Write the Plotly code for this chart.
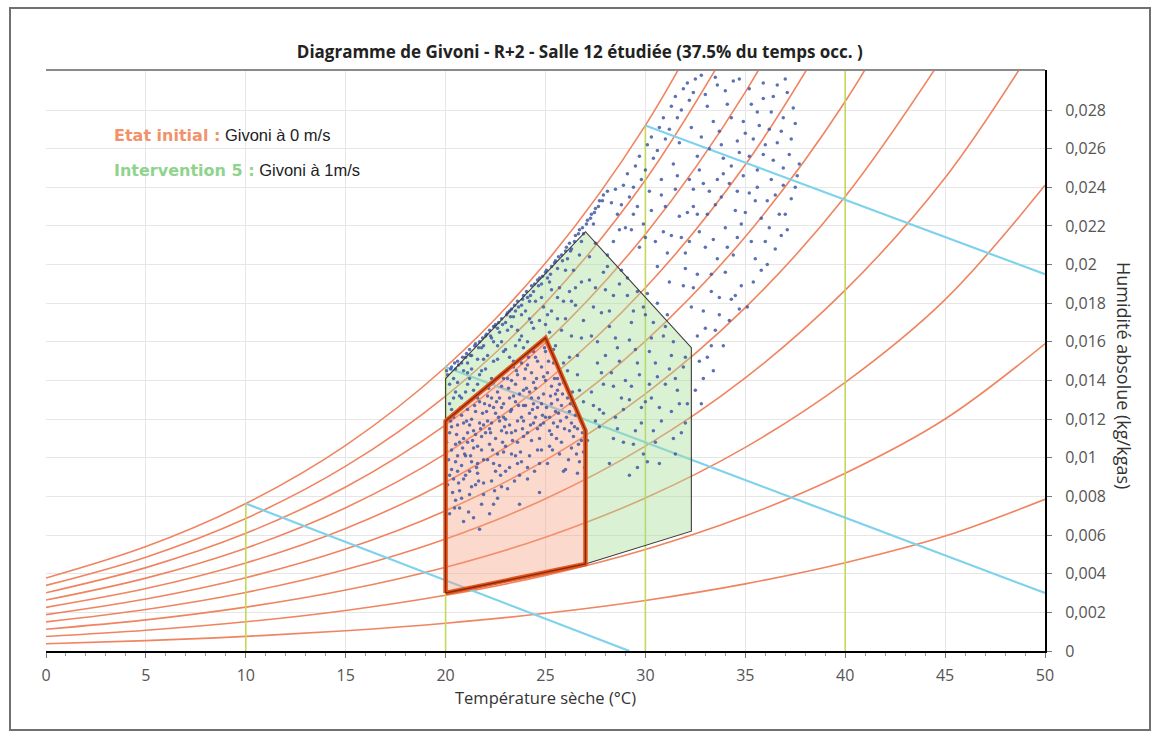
import plotly.graph_objects as go

# ---------------- data ----------------
temps = [0, 5, 10, 15, 20, 25, 30, 35, 40, 45, 50]

# humidity-ratio curves (kg/kgas) for relative humidity 10 % ... 100 %
rh10 = [0.000375, 0.000536, 0.000755, 0.001048, 0.001439, 0.001951, 0.002617, 0.003474, 0.004566, 0.005946, 0.00785]
rh20 = [0.000751, 0.001073, 0.001511, 0.002100, 0.002885, 0.003915, 0.005257, 0.006987, 0.009200, 0.012008, 0.01590]
rh30 = [0.001128, 0.001611, 0.002270, 0.003156, 0.004338, 0.005891, 0.007919, 0.010540, 0.013902, 0.018187, 0.02410]
rh40 = [0.001505, 0.002150, 0.003030, 0.004215, 0.005797, 0.007880, 0.010604, 0.014133, 0.018675, 0.024488, 0.03220]
rh50 = [0.001882, 0.002690, 0.003792, 0.005278, 0.007263, 0.009881, 0.013311, 0.017768, 0.023521, 0.030914]
rh60 = [0.002259, 0.003230, 0.004556, 0.006344, 0.008736, 0.011895, 0.016042, 0.021444, 0.028440, 0.037469]
rh70 = [0.002637, 0.003772, 0.005322, 0.007414, 0.010216, 0.013922, 0.018797, 0.025162, 0.033435]
rh80 = [0.003016, 0.004315, 0.006090, 0.008487, 0.011703, 0.015962, 0.021575, 0.028924, 0.038507]
rh90 = [0.003395, 0.004858, 0.006859, 0.009565, 0.013197, 0.018015, 0.024378, 0.032730]
rh100 = [0.003775, 0.005403, 0.007631, 0.010646, 0.014698, 0.020082, 0.027205, 0.036580]

# isotherms (vertical yellow-green lines up to saturation)
isotherm_t = [10, 20, 30, 40]
isotherm_top = [0.00763, 0.01470, 0.02720, 0.03100]

# isenthalpic lines (cyan)
enth_t0 = [10, 20, 30]
enth_w0 = [0.00763, 0.01470, 0.02720]
enth_t1 = [29.2, 50, 50]
enth_w1 = [0.0, 0.0030, 0.0195]

# Givoni zones
green_t = [20, 20, 27, 32.3, 32.3, 27, 20]
green_w = [0.0030, 0.0141, 0.0217, 0.0157, 0.0062, 0.0045, 0.0030]
orange_t = [20, 20, 25, 27, 27, 20]
orange_w = [0.0030, 0.0119, 0.0162, 0.0114, 0.0045, 0.0030]

# occupied hours (temperature, humidity ratio)
points = [
    # inside the 0 m/s zone
    (20.2,0.0071),(20.4,0.0089),(20.3,0.0104),(20.6,0.0117),(20.8,0.0096),(20.5,0.0078),(20.9,0.0110),(20.2,0.0113),
    (20.7,0.0083),(20.4,0.0121),(20.9,0.0067),(20.3,0.0094),(20.6,0.0101),(20.8,0.0122),(20.5,0.0107),(20.1,0.0086),
    (20.7,0.0074),(20.9,0.0089),(21.1,0.0125),(21.3,0.0098),(21.5,0.0112),(21.2,0.0081),(21.7,0.0129),(21.4,0.0069),
    (21.8,0.0104),(21.6,0.0092),(21.9,0.0117),(21.1,0.0108),(21.5,0.0086),(21.3,0.0120),(21.8,0.0076),(21.6,0.0131),
    (21.2,0.0093),(21.9,0.0099),(21.4,0.0114),(21.7,0.0063),(21.0,0.0101),(21.6,0.0106),(22.1,0.0132),(22.3,0.0088),
    (22.5,0.0123),(22.2,0.0107),(22.7,0.0096),(22.4,0.0139),(22.8,0.0114),(22.6,0.0079),(22.9,0.0128),(22.1,0.0099),
    (22.5,0.0110),(22.3,0.0118),(22.8,0.0085),(22.6,0.0134),(22.2,0.0071),(22.9,0.0103),(22.4,0.0126),(22.7,0.0119),
    (22.0,0.0113),(22.5,0.0093),(22.8,0.0137),(23.1,0.0141),(23.3,0.0102),(23.5,0.0129),(23.2,0.0117),(23.7,0.0091),
    (23.4,0.0147),(23.8,0.0121),(23.6,0.0108),(23.9,0.0135),(23.1,0.0084),(23.5,0.0114),(23.3,0.0125),(23.8,0.0098),
    (23.6,0.0143),(23.2,0.0095),(23.9,0.0111),(23.4,0.0132),(23.7,0.0076),(23.0,0.0120),(23.5,0.0138),(23.8,0.0149),
    (24.1,0.0148),(24.3,0.0109),(24.5,0.0136),(24.2,0.0123),(24.7,0.0097),(24.4,0.0155),(24.8,0.0128),(24.6,0.0115),
    (24.9,0.0142),(24.1,0.0089),(24.5,0.0121),(24.3,0.0131),(24.8,0.0104),(24.6,0.0150),(24.2,0.0101),(24.9,0.0118),
    (24.4,0.0139),(24.7,0.0082),(24.0,0.0127),(25.1,0.0144),(25.3,0.0112),(25.5,0.0133),(25.2,0.0121),(25.7,0.0102),
    (25.4,0.0149),(25.8,0.0127),(25.6,0.0116),(25.9,0.0093),(25.1,0.0097),(25.5,0.0124),(25.3,0.0137),(25.8,0.0108),
    (25.6,0.0141),(25.2,0.0106),(25.0,0.0155),(26.1,0.0131),(26.3,0.0105),(26.5,0.0122),(26.2,0.0114),(26.7,0.0098),
    (26.4,0.0127),(26.8,0.0109),(26.6,0.0092),(26.9,0.0103),(26.3,0.0118),(26.0,0.0094),
    (20.3,0.0116),(20.7,0.0108),(21.2,0.0117),(21.5,0.0124),(21.8,0.0111),(22.2,0.0127),(22.6,0.0102),(22.9,0.0121),
    (23.2,0.0131),(23.6,0.0119),(23.9,0.0127),(24.3,0.0144),(24.6,0.0126),(24.9,0.0133),(25.3,0.0128),(25.7,0.0138),
    (26.2,0.0124),(26.6,0.0115),(21.0,0.0091),(21.9,0.0087),(22.4,0.0097),(23.0,0.0106),(23.5,0.0101),(24.1,0.0113),
    (24.7,0.0110),(25.4,0.0118),(20.6,0.0093),(21.4,0.0105),(22.7,0.0131),(23.3,0.0140),(24.0,0.0146),(24.5,0.0152),
    (25.0,0.0140),(22.1,0.0119),(20.9,0.0118),(21.6,0.0097),(23.7,0.0133),(24.4,0.0118),(25.6,0.0130),(26.4,0.0111),
    (20.15,0.0099),(20.35,0.0082),(20.55,0.0112),(20.75,0.0126),(20.95,0.0102),(20.25,0.0119),(20.45,0.0074),(20.65,0.0087),
    (20.85,0.0105),(20.05,0.0108),(21.05,0.0119),(21.25,0.0101),(21.45,0.0127),(21.65,0.0088),(21.85,0.0123),(21.15,0.0072),
    (21.35,0.0109),(21.55,0.0095),(21.75,0.0115),(21.95,0.0128),(22.05,0.0124),(22.25,0.0113),(22.45,0.0083),(22.65,0.0121),
    (22.85,0.0108),(22.15,0.0136),(22.35,0.0104),(22.55,0.0129),(22.75,0.0091),(22.95,0.0116),(23.05,0.0113),(23.25,0.0124),
    (23.45,0.0088),(23.65,0.0127),(23.85,0.0115),(23.15,0.0136),(23.35,0.0109),(23.55,0.0145),(23.75,0.0103),(23.95,0.0141),
    (24.05,0.0136),(24.25,0.0117),(24.45,0.0093),(24.65,0.0131),(24.85,0.0122),(24.15,0.0152),(24.35,0.0125),(24.55,0.0141),
    (24.75,0.0117),(24.95,0.0157),(25.05,0.0126),(25.25,0.0132),(25.45,0.0141),(25.65,0.0123),(25.85,0.0133),(25.15,0.0150),
    (25.35,0.0104),(25.55,0.0110),(25.75,0.0119),(25.95,0.0115),(26.05,0.0121),(26.25,0.0128),(26.45,0.0116),(26.65,0.0107),
    (26.85,0.0113),(26.15,0.0099),(26.35,0.0134),(26.55,0.0102),(26.75,0.0119),(26.95,0.0095),(20.4,0.0131),(21.0,0.0134),
    (21.6,0.0138),(22.3,0.0131),(22.9,0.0141),(23.4,0.0150),(24.2,0.0134),(24.8,0.0147),(25.4,0.0156),(25.9,0.0139),
    (20.2,0.0091),(20.8,0.0079),(21.3,0.0085),(21.9,0.0081),(22.4,0.0076),(23.0,0.0093),(23.6,0.0097),(24.1,0.0095),
    (24.6,0.0104),(25.2,0.0114),(20.5,0.0098),(21.1,0.0113),(21.7,0.0118),(22.2,0.0115),(22.8,0.0126),(23.3,0.0113),
    (23.9,0.0119),(24.4,0.0128),(25.0,0.0121),(25.6,0.0135),
    # band close to saturation
    (20.1,0.0143),(20.3,0.0147),(20.5,0.0146),(20.6,0.0150),(20.8,0.0149),(21.0,0.0152),(21.2,0.0156),(21.3,0.0153),
    (21.5,0.0159),(21.7,0.0160),(21.8,0.0157),(22.0,0.0163),(22.2,0.0166),(22.3,0.0162),(22.5,0.0169),(22.6,0.0167),
    (22.8,0.0172),(23.0,0.0170),(23.1,0.0175),(23.3,0.0177),(23.4,0.0173),(23.6,0.0181),(23.8,0.0179),(23.9,0.0184),
    (24.1,0.0183),(24.3,0.0189),(24.4,0.0186),(24.6,0.0192),(24.8,0.0190),(25.0,0.0196),(25.1,0.0193),(25.3,0.0199),
    (25.5,0.0202),(25.6,0.0198),(25.8,0.0205),(26.0,0.0207),(26.2,0.0211),(26.3,0.0208),(26.5,0.0215),(26.7,0.0218),
    (26.9,0.0216),(27.1,0.0223),(27.3,0.0226),(27.5,0.0229),(27.7,0.0233),(27.9,0.0236),(20.4,0.0141),(21.1,0.0149),
    (21.9,0.0158),(22.7,0.0165),(23.5,0.0176),(24.2,0.0181),(25.2,0.0191),(26.1,0.0203),(26.8,0.0212),(27.4,0.0221),
    (28.1,0.0238),(22.4,0.0168),(24.7,0.0193),(23.2,0.0176),
    (20.05,0.0145),(20.25,0.0146),(20.45,0.0149),(20.65,0.0148),(20.85,0.0152),(21.05,0.0154),(21.25,0.0153),(21.45,0.0158),
    (21.65,0.0157),(21.85,0.0162),(22.05,0.0164),(22.25,0.0163),(22.45,0.0168),(22.65,0.0170),(22.85,0.0169),(23.05,0.0174),
    (23.25,0.0173),(23.45,0.0179),(23.65,0.0178),(23.85,0.0182),(24.05,0.0186),(24.25,0.0184),(24.45,0.0190),(24.65,0.0189),
    (24.85,0.0194),(25.05,0.0197),(25.25,0.0195),(25.45,0.0201),(25.65,0.0204),(25.85,0.0202),(26.05,0.0209),(26.25,0.0207),
    (26.45,0.0212),(26.65,0.0216),(26.85,0.0219),(27.05,0.0221),(27.25,0.0224),(27.45,0.0227),(27.65,0.0230),(27.85,0.0233),
    (20.2,0.0138),(20.9,0.0145),(21.6,0.0151),(22.4,0.0160),(23.1,0.0166),(23.8,0.0174),(24.5,0.0181),(25.3,0.0187),
    (26.0,0.0197),(26.7,0.0205),
    # 1 m/s zone, outside the 0 m/s zone
    (20.2,0.0128),(20.5,0.0134),(20.8,0.0131),(21.1,0.0138),(21.4,0.0135),(21.7,0.0143),(22.0,0.0146),(22.3,0.0141),
    (22.6,0.0151),(22.9,0.0155),(23.2,0.0152),(23.5,0.0158),(23.8,0.0163),(24.1,0.0160),(24.4,0.0167),(24.7,0.0171),
    (25.0,0.0169),(25.3,0.0176),(25.6,0.0172),(25.9,0.0181),(26.2,0.0186),(26.5,0.0179),(26.8,0.0191),(25.5,0.0158),
    (25.9,0.0149),(26.3,0.0163),(26.6,0.0153),(26.9,0.0171),(26.1,0.0145),(26.7,0.0135),(26.4,0.0197),(25.7,0.0188),
    (24.9,0.0178),(24.2,0.0172),(23.6,0.0166),(22.8,0.0160),(22.1,0.0153),(21.3,0.0146),(20.6,0.0139),(23.9,0.0157),
    (25.2,0.0165),(26.0,0.0172),
    (20.3,0.0125),(20.7,0.0132),(21.2,0.0141),(21.8,0.0145),(22.4,0.0150),(23.0,0.0156),(23.7,0.0161),(24.3,0.0170),
    (25.1,0.0174),(25.8,0.0166),(26.3,0.0181),(26.8,0.0162),(26.2,0.0152),(26.6,0.0143),(26.9,0.0129),(26.5,0.0188),
    (25.6,0.0183),(24.8,0.0183),(24.0,0.0176),(23.3,0.0168),(22.6,0.0158),(21.9,0.0151),(21.1,0.0144),
    (27.2,0.0204),(27.5,0.0188),(27.8,0.0175),(27.3,0.0163),(27.6,0.0149),(27.9,0.0138),(27.4,0.0127),(27.7,0.0116),
    (27.1,0.0109),(28.1,0.0199),(28.4,0.0184),(28.2,0.0168),(28.6,0.0157),(28.3,0.0144),(28.8,0.0131),(28.5,0.0121),
    (28.9,0.0108),(28.2,0.0097),(29.1,0.0193),(29.4,0.0176),(29.2,0.0161),(29.6,0.0149),(29.3,0.0137),(29.8,0.0126),
    (29.5,0.0114),(29.9,0.0102),(29.2,0.0091),(30.1,0.0185),(30.4,0.0170),(30.2,0.0155),(30.6,0.0142),(30.3,0.0131),
    (30.8,0.0119),(30.5,0.0108),(31.1,0.0174),(31.4,0.0160),(31.2,0.0146),(31.6,0.0135),(31.3,0.0124),(31.8,0.0113),
    (32.0,0.0152),(32.1,0.0128),(27.5,0.0211),(28.7,0.0190),(29.9,0.0178),(30.9,0.0163),(28.0,0.0153),(29.0,0.0140),
    (30.0,0.0129),(31.0,0.0138),(27.9,0.0123),(28.4,0.0110),(29.6,0.0095),(30.7,0.0097),(31.5,0.0102),
    (27.2,0.0192),(27.4,0.0178),(27.6,0.0160),(27.8,0.0144),(27.3,0.0134),(27.7,0.0125),(27.5,0.0119),(28.0,0.0187),
    (28.2,0.0176),(28.5,0.0162),(28.7,0.0150),(28.4,0.0137),(28.9,0.0125),(28.6,0.0115),(29.1,0.0184),(29.3,0.0170),
    (29.5,0.0156),(29.7,0.0143),(29.2,0.0130),(29.8,0.0118),(29.4,0.0107),(30.0,0.0174),(30.3,0.0162),(30.5,0.0149),
    (30.2,0.0138),(30.7,0.0126),(30.4,0.0114),(31.0,0.0168),(31.3,0.0153),(31.5,0.0141),(31.7,0.0128),(31.9,0.0147),
    (32.0,0.0118),(28.1,0.0205),(28.8,0.0197),(29.6,0.0186),(30.6,0.0180),(27.9,0.0196),(31.4,0.0110),(30.1,0.0098),
    # hot and humid, outside both zones
    (28.3,0.0232),(28.6,0.0226),(28.9,0.0241),(29.2,0.0235),(29.5,0.0251),(29.8,0.0244),(30.1,0.0262),(30.4,0.0255),
    (30.7,0.0271),(31.0,0.0265),(31.3,0.0282),(31.6,0.0276),(31.9,0.0291),(32.2,0.0285),(32.5,0.0296),(29.0,0.0219),
    (29.7,0.0209),(30.3,0.0228),(30.9,0.0217),(31.5,0.0239),(32.1,0.0227),(32.7,0.0249),(33.2,0.0238),(33.8,0.0262),
    (34.3,0.0251),(34.9,0.0274),(35.4,0.0265),(35.9,0.0286),(36.3,0.0279),(36.8,0.0269),(37.2,0.0257),(37.6,0.0246),
    (37.4,0.0281),(36.6,0.0293),(35.2,0.0291),(34.1,0.0283),(33.4,0.0274),(32.8,0.0266),(33.6,0.0293),(34.6,0.0238),
    (35.6,0.0249),(36.1,0.0233),(36.9,0.0241),(37.7,0.0252),(35.0,0.0227),(34.0,0.0219),(33.0,0.0209),(32.0,0.0198),
    (31.2,0.0191),(30.6,0.0199),(31.8,0.0214),(32.6,0.0226),(33.5,0.0231),(34.4,0.0205),(35.3,0.0212),(36.2,0.0219),
    (37.0,0.0226),(35.8,0.0197),(34.8,0.0189),(33.7,0.0183),(32.9,0.0176),(32.4,0.0188),(33.3,0.0195),(34.2,0.0171),
    (35.1,0.0178),(33.9,0.0158),(33.1,0.0152),(32.6,0.0163),(32.9,0.0141),(32.5,0.0135),(33.5,0.0166),(34.5,0.0184),
    (36.5,0.0208),(37.3,0.0234),(36.0,0.0262),(34.7,0.0258),(33.9,0.0247),(32.4,0.0239),(31.4,0.0252),(30.8,0.0244),
    (30.2,0.0238),(29.6,0.0230),(31.7,0.0263),(32.3,0.0271),(33.1,0.0282),(34.4,0.0295),(35.7,0.0272),(36.4,0.0254),
    (37.1,0.0289),(29.3,0.0218),(30.0,0.0214),(31.1,0.0206),(32.2,0.0212),(33.6,0.0203),(34.6,0.0214),(35.5,0.0233),
    (36.7,0.0226),
    (28.5,0.0239),(28.8,0.0231),(29.1,0.0247),(29.4,0.0240),(29.7,0.0256),(30.0,0.0249),(30.3,0.0266),(30.6,0.0259),
    (30.9,0.0276),(31.2,0.0270),(31.5,0.0287),(31.8,0.0280),(32.1,0.0294),(32.4,0.0289),(32.8,0.0298),(33.0,0.0288),
    (33.5,0.0297),(34.0,0.0290),(34.7,0.0296),(35.3,0.0283),(35.9,0.0294),(36.4,0.0287),(37.0,0.0296),(37.5,0.0273),
    (36.9,0.0276),(36.2,0.0270),(35.6,0.0279),(35.0,0.0268),(34.3,0.0276),(33.7,0.0269),(33.2,0.0260),(32.6,0.0256),
    (33.9,0.0255),(34.6,0.0264),(35.2,0.0256),(35.9,0.0257),(36.6,0.0263),(37.3,0.0265),(31.6,0.0246),(32.2,0.0244),
    (32.9,0.0242),(33.6,0.0244),(34.2,0.0242),(34.9,0.0246),(35.6,0.0240),(36.3,0.0244),(36.9,0.0250),(37.5,0.0240),
    (31.0,0.0230),(31.7,0.0225),(32.4,0.0230),(33.1,0.0226),(33.8,0.0235),(34.5,0.0228),(35.2,0.0237),(35.8,0.0224),
    (36.5,0.0236),(37.1,0.0218),(30.5,0.0212),(31.3,0.0215),(32.0,0.0206),(32.7,0.0217),(33.4,0.0213),(34.1,0.0209),
    (34.8,0.0221),(35.5,0.0203),(36.0,0.0212),(36.8,0.0215),(31.9,0.0189),(32.6,0.0195),(33.3,0.0186),(34.0,0.0196),
    (34.7,0.0177),(35.4,0.0191),(36.1,0.0200),(33.0,0.0167),(33.7,0.0174),(34.3,0.0182),(32.3,0.0178),(32.7,0.0150),
    (33.3,0.0158),(32.8,0.0128),(33.4,0.0145),(29.9,0.0221),(29.4,0.0226),(28.7,0.0218),(28.4,0.0212),(30.8,0.0236),
]

x_ticks = [0, 5, 10, 15, 20, 25, 30, 35, 40, 45, 50]
y_tickvals = [0, 0.002, 0.004, 0.006, 0.008, 0.010, 0.012, 0.014, 0.016, 0.018, 0.020, 0.022, 0.024, 0.026, 0.028]
y_ticktext = ["0", "0,002", "0,004", "0,006", "0,008", "0,01", "0,012", "0,014", "0,016", "0,018",
              "0,02", "0,022", "0,024", "0,026", "0,028"]

title_text = "Diagramme de Givoni - R+2 - Salle 12 étudiée (37.5% du temps occ. )"
x_title = "Température sèche (°C)"
y_title = "Humidité absolue (kg/kgas)"

# ---------------- figure ----------------
fig = go.Figure()

for curve in [rh10, rh20, rh30, rh40, rh50, rh60, rh70, rh80, rh90, rh100]:
    fig.add_trace(go.Scatter(x=temps[:len(curve)], y=curve, mode="lines",
                             line=dict(color="#f08460", width=1.6, shape="spline", smoothing=1.0),
                             hoverinfo="skip"))

iso_x, iso_y = [], []
for t, top in zip(isotherm_t, isotherm_top):
    iso_x += [t, t, None]
    iso_y += [0, top, None]
fig.add_trace(go.Scatter(x=iso_x, y=iso_y, mode="lines",
                         line=dict(color="#c2d95a", width=1.6), hoverinfo="skip"))

en_x, en_y = [], []
for a, b, c, d in zip(enth_t0, enth_w0, enth_t1, enth_w1):
    en_x += [a, c, None]
    en_y += [b, d, None]
fig.add_trace(go.Scatter(x=en_x, y=en_y, mode="lines",
                         line=dict(color="#7fd2ec", width=2.2), hoverinfo="skip"))

# green zone fill (outside of the orange zone)
gf_t = [orange_t[1]] + green_t[1:6] + [orange_t[3], orange_t[2], orange_t[1]]
gf_w = [orange_w[1]] + green_w[1:6] + [orange_w[3], orange_w[2], orange_w[1]]
fig.add_trace(go.Scatter(x=gf_t, y=gf_w, mode="lines", fill="toself",
                         fillcolor="rgba(170,222,152,0.42)", line=dict(width=0), hoverinfo="skip"))
fig.add_trace(go.Scatter(x=orange_t, y=orange_w, mode="lines", fill="toself",
                         fillcolor="rgba(245,160,128,0.40)", line=dict(width=0), hoverinfo="skip"))

fig.add_trace(go.Scatter(x=[p[0] for p in points], y=[p[1] for p in points], mode="markers",
                         marker=dict(size=3.5, color="rgba(62,88,165,0.85)"), hoverinfo="skip"))

fig.add_trace(go.Scatter(x=green_t, y=green_w, mode="lines",
                         line=dict(color="#3c3c3c", width=1.1), hoverinfo="skip"))
fig.add_trace(go.Scatter(x=orange_t, y=orange_w, mode="lines",
                         line=dict(color="#e4561e", width=4.5), hoverinfo="skip"))
fig.add_trace(go.Scatter(x=orange_t, y=orange_w, mode="lines",
                         line=dict(color="#862a0c", width=1.4), hoverinfo="skip"))

L, R, T, B = 46, 1045, 70, 651
W_, H_ = R - L, B - T


def px(x):
    return (x - L) / W_


def py(y):
    return (B - y) / H_


tick_font = dict(family="Open Sans", size=16, color="#555555")

fig.update_layout(
    width=1155, height=736,
    margin=dict(l=L, r=1155 - R, t=T, b=736 - B),
    paper_bgcolor="white", plot_bgcolor="white",
    showlegend=False,
    title=dict(text="<b>" + title_text + "</b>", x=0.502, xanchor="center",
               y=1 - 52 / 736, yanchor="middle",
               font=dict(family="Open Sans", size=17, color="#222222")),
    xaxis=dict(range=[0, 50], tickvals=x_ticks, showgrid=True, gridcolor="#e6e6e6", gridwidth=1,
               showline=True, linecolor="black", linewidth=2, zeroline=False,
               ticks="outside", ticklen=5, tickcolor="#777777", tickfont=tick_font,
               ticklabelstandoff=4,
               minor=dict(dtick=1, ticks="outside", ticklen=3, tickcolor="#999999", showgrid=False)),
    yaxis=dict(range=[0, 0.03007], side="right", tickvals=y_tickvals, ticktext=y_ticktext,
               showgrid=True, gridcolor="#e6e6e6", gridwidth=1,
               showline=True, linecolor="black", linewidth=2, zeroline=False,
               ticks="outside", ticklen=5, tickcolor="#777777", tickfont=tick_font,
               ticklabelstandoff=10),
    shapes=[
        dict(type="rect", xref="paper", yref="paper", x0=px(10), x1=px(1150), y0=py(730), y1=py(8),
             line=dict(color="#707070", width=2), fillcolor="rgba(0,0,0,0)", layer="below"),
        dict(type="line", xref="paper", yref="paper", x0=0, x1=1, y0=1, y1=1,
             line=dict(color="#8a8a8a", width=2)),
    ],
    annotations=[
        dict(text=x_title, xref="paper", yref="paper", x=0.5, y=py(697), showarrow=False,
             xanchor="center", yanchor="middle", font=dict(family="Open Sans", size=16.5, color="#333333")),
        dict(text=y_title, xref="paper", yref="paper", x=px(1124), y=py(375), showarrow=False,
             textangle=90, xanchor="center", yanchor="middle",
             font=dict(family="Open Sans", size=18, color="#333333")),
        dict(text="<span style='font-family:DejaVu Sans;font-weight:bold;font-size:16px;color:#f2926a'>Etat initial :</span> Givoni à 0 m/s",
             xref="paper", yref="paper", x=px(112), y=py(135), showarrow=False,
             xanchor="left", yanchor="middle",
             font=dict(family="Liberation Sans", size=16.5, color="#222222")),
        dict(text="<span style='font-family:DejaVu Sans;font-weight:bold;font-size:16px;color:#8fd38c'>Intervention 5 :</span> Givoni à 1m/s",
             xref="paper", yref="paper", x=px(112), y=py(170), showarrow=False,
             xanchor="left", yanchor="middle",
             font=dict(family="Liberation Sans", size=16.5, color="#222222")),
    ],
)

fig.write_html("out.html")
